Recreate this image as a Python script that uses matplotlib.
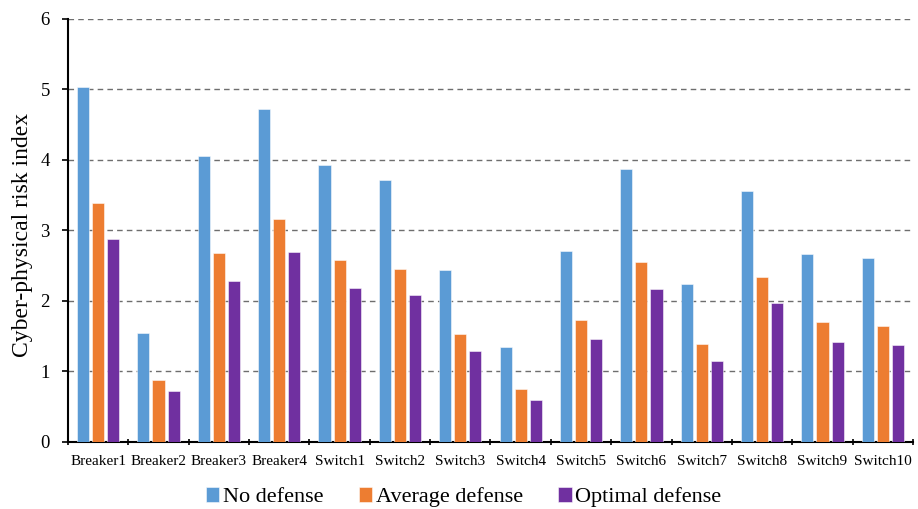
import numpy as np
import matplotlib
matplotlib.use("Agg")
import matplotlib.pyplot as plt
from matplotlib.ticker import FixedLocator, NullFormatter

plt.rcParams['font.family'] = ['Liberation Serif', 'DejaVu Serif']

categories = ["Breaker1", "Breaker2", "Breaker3", "Breaker4", "Switch1", "Switch2",
              "Switch3", "Switch4", "Switch5", "Switch6", "Switch7", "Switch8",
              "Switch9", "Switch10"]
no_defense = [5.03, 1.54, 4.05, 4.72, 3.92, 3.72, 2.43, 1.34, 2.71, 3.87, 2.24, 3.56, 2.66, 2.61]
average_defense = [3.38, 0.88, 2.68, 3.16, 2.58, 2.45, 1.52, 0.74, 1.72, 2.55, 1.38, 2.34, 1.69, 1.64]
optimal_defense = [2.88, 0.72, 2.28, 2.69, 2.18, 2.08, 1.28, 0.59, 1.45, 2.16, 1.15, 1.97, 1.41, 1.37]
series_names = ["No defense", "Average defense", "Optimal defense"]
series_colors = ["#5B9BD5", "#ED7D31", "#7030A0"]

fig = plt.figure(figsize=(9.18, 5.09), dpi=100)
ax = fig.add_axes([0.074, 0.1326, 0.9206, 0.8301])

x = np.arange(len(categories))
width = 0.2
offsets = [-0.25, 0.0, 0.25]
for vals, name, col, off in zip([no_defense, average_defense, optimal_defense],
                                series_names, series_colors, offsets):
    ax.bar(x + off, vals, width=width, color=col, edgecolor=(1, 1, 1, 0.6),
           linewidth=0.6, label=name, zorder=3)

ax.set_xlim(-0.5, len(categories) - 0.5)
ax.set_ylim(0, 6)
ax.set_yticks(range(0, 7))
ax.yaxis.grid(True, linestyle=(0, (4, 3)), color="#6e6e6e", linewidth=1.0, zorder=0)
ax.set_axisbelow(True)

ax.set_xticks(x)
ax.set_xticklabels(categories, fontsize=11)
ax.tick_params(axis='x', which='major', length=0, pad=10)
ax.xaxis.set_minor_locator(FixedLocator(np.arange(-0.5, len(categories), 1.0)))
ax.xaxis.set_minor_formatter(NullFormatter())
ax.tick_params(axis='x', which='minor', length=4, direction='inout', width=1.2)
ax.tick_params(axis='y', labelsize=13.5, length=4, width=1.2, direction='out', pad=9)

for side in ['top', 'right']:
    ax.spines[side].set_visible(False)
for side in ['left', 'bottom']:
    ax.spines[side].set_linewidth(1.5)
    ax.spines[side].set_color('black')

ax.set_ylabel("Cyber-physical risk index", fontsize=17)
ax.yaxis.set_label_coords(-0.041, 0.489)

fig.legend(loc='lower center', bbox_to_anchor=(0.505, -0.036), ncol=3, frameon=False,
           fontsize=16, handlelength=0.6, handleheight=0.6, handletextpad=0.15,
           columnspacing=1.6)

fig.savefig("out.png", dpi=100)
